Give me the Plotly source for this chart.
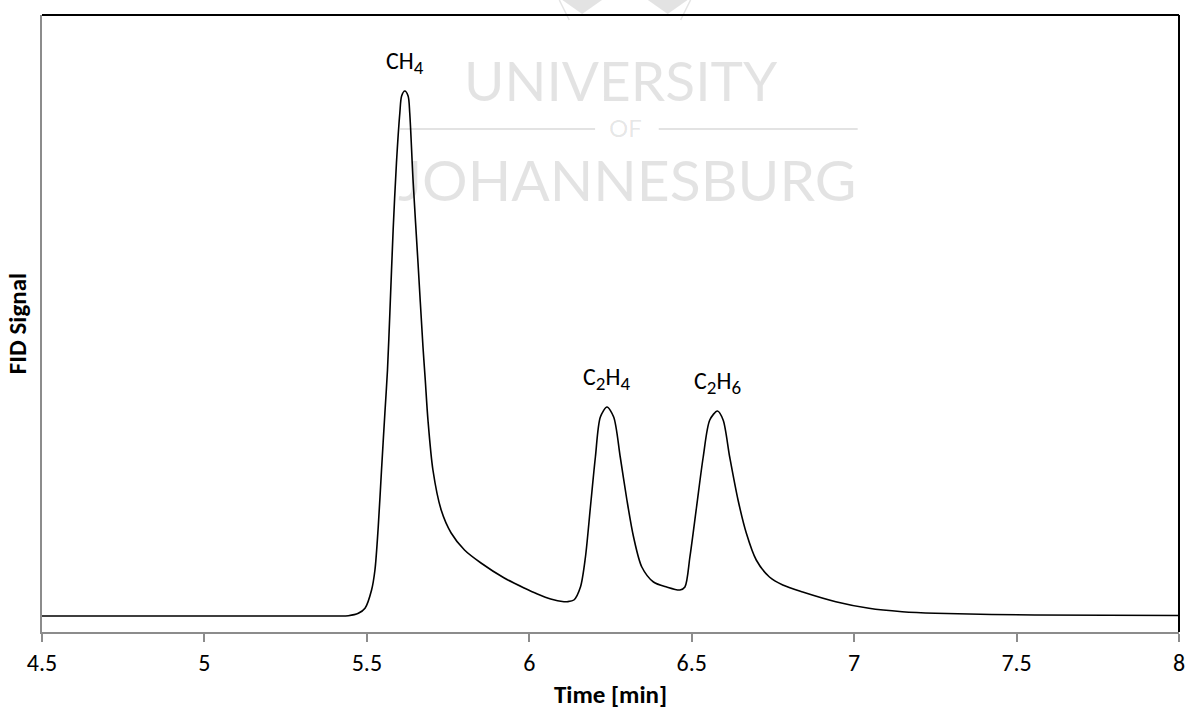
import plotly.graph_objects as go

# Digitised chromatogram (time in min, FID signal in arbitrary units)
time_min = [4.5, 5.0, 5.29, 5.4125, 5.443, 5.4738, 5.4943, 5.5145, 5.5249, 5.535, 5.5451,
            5.5555, 5.5635, 5.5708, 5.5809, 5.5911, 5.6015, 5.607, 5.6168, 5.627, 5.632,
            5.6422, 5.6575, 5.6728, 5.6798, 5.6881, 5.7034, 5.7288, 5.7595, 5.8005, 5.8513,
            5.923, 5.9842, 6.0249, 6.0657, 6.1067, 6.1168, 6.1373, 6.1575, 6.1729, 6.1882,
            6.2035, 6.2188, 6.2392, 6.2598, 6.28, 6.3005, 6.321, 6.3464, 6.3823, 6.423,
            6.4637, 6.4791, 6.4944, 6.5149, 6.5354, 6.5556, 6.5792, 6.5967, 6.6169, 6.6426,
            6.668, 6.6987, 6.7393, 6.7803, 6.8416, 6.9435, 7.0456, 7.1478, 7.2498, 7.556, 8.0]
fid_signal = [0, 0, 0, 0, 0.3, 2.7, 7.7, 26, 46, 89, 146,
              203, 246, 303, 386, 453, 503, 520, 525, 520, 503,
              436, 353, 269, 236, 196, 146, 106, 83, 66, 53,
              38, 28, 22, 17, 14.3, 14.3, 16, 29, 59, 109,
              159, 199, 209, 199, 159, 116, 79, 49, 34, 29,
              26, 29, 59, 109, 159, 196, 205, 196, 159, 116,
              83, 56, 39, 31, 24, 14.3, 7.7, 4.3, 2.7, 1, 0.5]

SUB = '<sub><span style="font-size:19px">{}</span></sub>'
peak_labels = ["CH" + SUB.format("4"),
               "C" + SUB.format("2") + "H" + SUB.format("4"),
               "C" + SUB.format("2") + "H" + SUB.format("6")]
peak_times = [5.6168, 6.2392, 6.5792]
peak_heights = [525, 209, 205]

x_ticks = [4.5, 5, 5.5, 6, 6.5, 7, 7.5, 8]
x_title = "Time [min]"
y_title = "FID Signal"

FONT = "Carlito, Calibri, Lato, sans-serif"
WMFONT = "Lato, Open Sans, sans-serif"

fig = go.Figure()
fig.add_trace(go.Scatter(x=time_min, y=fid_signal, mode="lines",
                         line=dict(color="black", width=1.6, shape="spline", smoothing=0.8),
                         hoverinfo="x+y", showlegend=False))

for lab, t, h in zip(peak_labels, peak_times, peak_heights):
    fig.add_annotation(x=t, y=h, text=lab, showarrow=False, xanchor="center",
                       yanchor="bottom", yshift=10,
                       font=dict(family=FONT, size=24, color="black"))

# watermark (University of Johannesburg logo text)
wm = "rgba(0,0,0,0.11)"
def px(x):
    return (x - 42) / 1143
def py(y):
    return (632 - y) / 617

fig.add_annotation(xref="paper", yref="paper", x=px(624), y=py(80), text="UNIVERSITY",
                   xanchor="center", yanchor="middle", showarrow=False,
                   font=dict(family=WMFONT, size=55, color=wm))
fig.add_annotation(xref="paper", yref="paper", x=px(629), y=py(128), text="OF",
                   xanchor="center", yanchor="middle", showarrow=False,
                   font=dict(family=WMFONT, size=24, color=wm))
fig.add_annotation(xref="paper", yref="paper", x=px(630), y=py(179), text="JOHANNESBURG",
                   xanchor="center", yanchor="middle", showarrow=False,
                   font=dict(family=WMFONT, size=57, color=wm))
fig.add_shape(type="line", xref="paper", yref="paper", x0=px(402), x1=px(598), y0=py(129), y1=py(129),
              line=dict(color=wm, width=2))
fig.add_shape(type="line", xref="paper", yref="paper", x0=px(662), x1=px(862), y0=py(129), y1=py(129),
              line=dict(color=wm, width=2))
# partial logo chevrons above the frame
for cx in (585, 671):
    fig.add_shape(type="path", xref="paper", yref="paper",
                  path=f"M {px(cx-20)},{py(0)} L {px(cx+20)},{py(0)} L {px(cx)},{py(14)} Z",
                  fillcolor=wm, line=dict(width=0), layer="below")
for x0, x1 in ((562, 572), (694, 684)):
    fig.add_shape(type="line", xref="paper", yref="paper", x0=px(x0), x1=px(x1), y0=py(0), y1=py(20),
                  line=dict(color=wm, width=1.5))

# black top and right frame
fig.add_shape(type="line", xref="paper", yref="paper", x0=0, x1=1, y0=1, y1=1,
              line=dict(color="black", width=2))
fig.add_shape(type="line", xref="paper", yref="paper", x0=1, x1=1, y0=0, y1=1,
              line=dict(color="black", width=2))

fig.update_layout(
    width=1193, height=724,
    margin=dict(l=42, r=8, t=15, b=92),
    paper_bgcolor="white", plot_bgcolor="white",
    font=dict(family=FONT, size=24, color="black"),
    xaxis=dict(range=[4.5, 8], tickvals=x_ticks, ticktext=[str(v) for v in x_ticks],
               showgrid=False, zeroline=False, showline=True, linecolor="#8c8c8c", linewidth=2,
               ticks="outside", ticklen=8, tickwidth=2, tickcolor="#8c8c8c",
               tickfont=dict(family=FONT, size=24),
               title=dict(text="<b>" + x_title + "</b>", standoff=10,
                          font=dict(family=FONT, size=25))),
    yaxis=dict(range=[-16, 601], showgrid=False, zeroline=False, showticklabels=False,
               showline=True, linecolor="#8c8c8c", linewidth=2, ticks="",
               title=dict(text="<b>" + y_title + "</b>", standoff=6,
                          font=dict(family=FONT, size=25))),
)

fig.write_html("out.html")
